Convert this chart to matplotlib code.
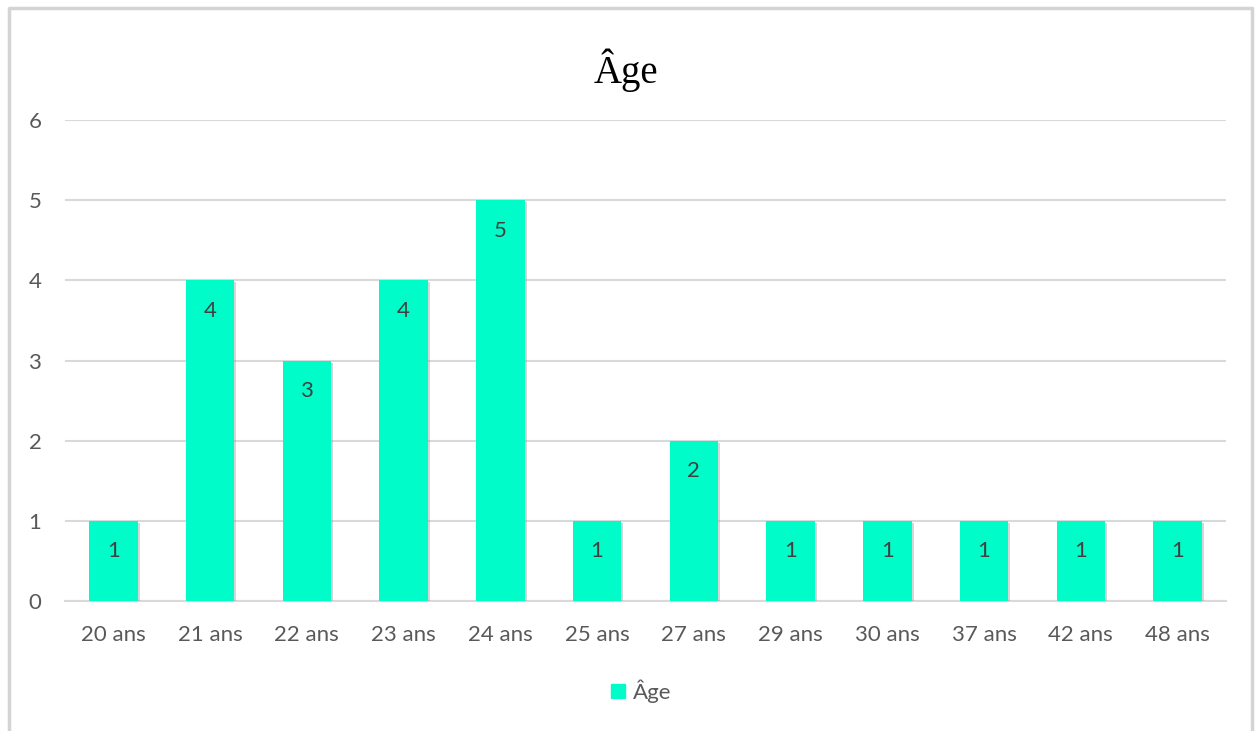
import matplotlib
matplotlib.use("Agg")
import matplotlib.pyplot as plt
import matplotlib.patheffects as pe
from matplotlib.lines import Line2D

categories = ["20 ans", "21 ans", "22 ans", "23 ans", "24 ans", "25 ans",
              "27 ans", "29 ans", "30 ans", "37 ans", "42 ans", "48 ans"]
counts = [1, 4, 3, 4, 5, 1, 2, 1, 1, 1, 1, 1]
y_ticks = [0, 1, 2, 3, 4, 5, 6]
series_name = "Âge"
title = "Âge"

BAR = "#00FCC8"
GRID = "#D9D9D9"
TXT = "#595959"

fig = plt.figure(figsize=(12.57, 7.31), dpi=100)
fig.patch.set_facecolor("white")
ax = fig.add_axes([65 / 1257, 1 - 601 / 731, (1226 - 65) / 1257, (601 - 120) / 731])

x = list(range(len(categories)))
bars = ax.bar(x, counts, width=0.5, color=BAR, label=series_name, zorder=3,
              path_effects=[pe.SimplePatchShadow(offset=(1.5, -1.5), shadow_rgbFace="#9a9a9a", alpha=0.4),
                            pe.Normal()])

for xi, v in zip(x, counts):
    ax.annotate(str(v), (xi, v), xytext=(0, -22), textcoords="offset points",
                ha="center", va="center", fontsize=16, color="#404040",
                family="Lato", zorder=4)

ax.set_xlim(-0.5, len(categories) - 0.5)
ax.set_ylim(0, 6)
ax.set_yticks(y_ticks)
ax.set_xticks(x)
ax.set_xticklabels(categories)
ax.tick_params(axis="both", length=0, labelsize=16, colors=TXT)
ax.tick_params(axis="x", pad=17)
ax.tick_params(axis="y", pad=17)
for lbl in ax.get_xticklabels() + ax.get_yticklabels():
    lbl.set_family("Lato")
ax.yaxis.grid(True, color=GRID, linewidth=1.5, zorder=0)
ax.set_axisbelow(True)
for s in ["top", "right", "left"]:
    ax.spines[s].set_visible(False)
ax.spines["bottom"].set_color(GRID)
ax.spines["bottom"].set_linewidth(1.5)

fig.text(626 / 1257, 1 - 70 / 731, title, ha="center", va="center",
         fontsize=28, family="Liberation Serif", color="black")

leg = fig.legend(handles=[Line2D([], [], marker="s", linestyle="", markersize=10,
                                 markerfacecolor=BAR, markeredgecolor=BAR)],
                 labels=[series_name], loc="center", bbox_to_anchor=(638 / 1257, 1 - 691 / 731),
                 frameon=False, handletextpad=0.05, handlelength=1.2,
                 prop={"family": "Lato", "size": 16})
for t in leg.get_texts():
    t.set_color(TXT)

# outer chart frame (open at the bottom)
fx0, fx1, fy0 = 9 / 1257, 1252 / 1257, 1 - 8 / 731
fig.add_artist(Line2D([fx0, fx0, fx1, fx1], [0, fy0, fy0, 0], transform=fig.transFigure,
                      color="#D4D4D4", linewidth=2.5))

fig.savefig("out.png", dpi=100)
